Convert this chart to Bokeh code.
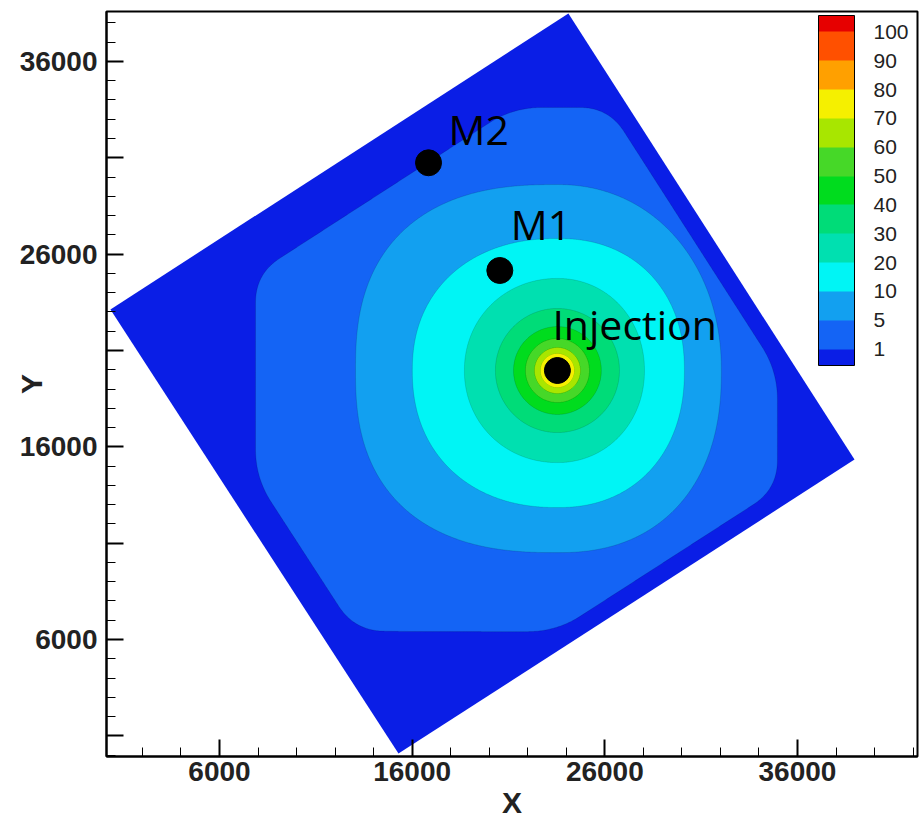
import numpy as np
from bokeh.plotting import figure
from bokeh.models import ColorBar, LinearColorMapper, FixedTicker, Range1d
from bokeh.embed import file_html
from bokeh.resources import INLINE
from bokeh.core.properties import value

# Model domain: a rotated square block, corner coordinates (m), order top, right, bottom, left
domain_x = [24110, 38960, 15290, 340]
domain_y = [38490, 15340, 80, 23130]

# Concentration levels shown on the colour bar
levels = [1, 5, 10, 20, 30, 40, 50, 60, 70, 80, 90, 100]
# Band colours: below 1, 1-5, 5-10, ..., 90-100, above 100
band_colors = ["#0a1ee6", "#1464f5", "#12a0f0", "#00f5f5", "#00e0b0",
               "#00dc78", "#00dc1e", "#46d828", "#a8e600", "#f5f000",
               "#ffa000", "#ff5000", "#e60000"]

# Wells
well_names = ["Injection", "M1", "M2"]
well_x = [23540, 20550, 16850]
well_y = [19960, 25150, 30740]

# Iso-concentration contours around the injection well:
# reach to the left, right, up and down from the well (m)
contour_levels = [1, 5, 10, 20, 30, 40, 50, 60, 70, 80]
reach_left = [15670, 10480, 7530, 4830, 3220, 2280, 1660, 1190, 880, 670]
reach_right = [11420, 8510, 6590, 4520, 3220, 2280, 1660, 1190, 880, 670]
reach_up = [13650, 9650, 6850, 4780, 3220, 2280, 1660, 1190, 880, 670]
reach_down = [13550, 9450, 7110, 4780, 3220, 2280, 1660, 1190, 880, 670]
# squareness per quadrant (upper-right, upper-left, lower-left, lower-right)
squareness = [(8, 8, 8, 8), (2.1, 2.5, 2.5, 2.3), (2.2, 2.2, 2.2, 2.2),
              (2.05, 2.05, 2.05, 2.05)] + [(2.0, 2.0, 2.0, 2.0)] * 6
# closest approach of the outermost contour to the block edges (m):
# top-right, bottom-right, bottom-left, top-left edge
edge_gap_1 = [880, 880, 1560, 2540]

x_major = [6000, 16000, 26000, 36000]
y_major = [1000, 6000, 11000, 16000, 21000, 26000, 31000, 36000]
y_labelled = [6000, 16000, 26000, 36000]


def contour_outline(cx, cy, left, right, up, down, quad_p, n=1440):
    t = np.linspace(0, 2 * np.pi, n, endpoint=False)
    c, s = np.cos(t), np.sin(t)
    quad = np.where(c >= 0, np.where(s >= 0, 0, 3), np.where(s >= 0, 1, 2))
    p = np.array(quad_p, dtype=float)[quad]
    a = np.where(c >= 0, right, left)
    b = np.where(s >= 0, up, down)
    x = cx + a * np.sign(c) * np.abs(c) ** (2.0 / p)
    y = cy + b * np.sign(s) * np.abs(s) ** (2.0 / p)
    return x, y


def inset_polygon(qx, qy, gaps):
    q = np.column_stack([qx, qy]).astype(float)
    n = len(q)
    area = 0.5 * np.sum(q[:, 0] * np.roll(q[:, 1], -1) - np.roll(q[:, 0], -1) * q[:, 1])
    normals, consts = [], []
    for i in range(n):
        a, b = q[i], q[(i + 1) % n]
        d = (b - a) / np.hypot(*(b - a))
        nin = np.array([-d[1], d[0]]) if area > 0 else np.array([d[1], -d[0]])
        normals.append(nin)
        consts.append(nin @ a + gaps[i])
    verts = [np.linalg.solve(np.array([normals[i - 1], normals[i]]),
                             np.array([consts[i - 1], consts[i]])) for i in range(n)]
    verts = np.array(verts)
    return list(verts[:, 0]), list(verts[:, 1])


def clip_to(px, py, qx, qy):
    """Sutherland-Hodgman clipping of polygon p against convex polygon q."""
    pts = list(zip(px, py))
    q = list(zip(qx, qy))
    area = sum(q[i][0] * q[(i + 1) % len(q)][1] - q[(i + 1) % len(q)][0] * q[i][1]
               for i in range(len(q)))
    orient = 1.0 if area > 0 else -1.0

    def inside(pt, a, b):
        return orient * ((b[0] - a[0]) * (pt[1] - a[1]) - (b[1] - a[1]) * (pt[0] - a[0])) >= 0

    def cross_pt(p1, p2, a, b):
        x1, y1 = p1
        x2, y2 = p2
        x3, y3 = a
        x4, y4 = b
        den = (x1 - x2) * (y3 - y4) - (y1 - y2) * (x3 - x4)
        tt = ((x1 - x3) * (y3 - y4) - (y1 - y3) * (x3 - x4)) / den
        return (x1 + tt * (x2 - x1), y1 + tt * (y2 - y1))

    for i in range(len(q)):
        a, b = q[i], q[(i + 1) % len(q)]
        out = []
        if not pts:
            break
        prev = pts[-1]
        for cur in pts:
            if inside(cur, a, b):
                if not inside(prev, a, b):
                    out.append(cross_pt(prev, cur, a, b))
                out.append(cur)
            elif inside(prev, a, b):
                out.append(cross_pt(prev, cur, a, b))
            prev = cur
        pts = out
    return np.array([v[0] for v in pts]), np.array([v[1] for v in pts])


def round_corners(x, y, window, m=1200):
    """Resample a closed outline evenly and apply a circular moving average."""
    xx = np.append(x, x[0])
    yy = np.append(y, y[0])
    s = np.concatenate([[0], np.cumsum(np.hypot(np.diff(xx), np.diff(yy)))])
    t = np.linspace(0, s[-1], m, endpoint=False)
    xc, yc = np.interp(t, s, xx), np.interp(t, s, yy)
    k = max(1, int(round(window / s[-1] * m)))
    if k < 2:
        return xc, yc
    ker = np.ones(k) / k
    xs_ = np.convolve(np.concatenate([xc[-k:], xc, xc[:k]]), ker, mode="same")[k:-k]
    ys_ = np.convolve(np.concatenate([yc[-k:], yc, yc[:k]]), ker, mode="same")[k:-k]
    return xs_, ys_


p = figure(width=920, height=821, output_backend="svg", toolbar_location=None,
           x_range=Range1d(135, 42230), y_range=Range1d(-70, 38590),
           min_border_left=106, min_border_right=3, min_border_top=11,
           min_border_bottom=65)
p.xgrid.visible = False
p.ygrid.visible = False
p.outline_line_color = "black"
p.outline_line_width = 2
p.background_fill_color = "white"

# block with the lowest band colour
p.patch(domain_x, domain_y, color=band_colors[0], line_color=None)

# nested filled contours, clipped to the block
cx, cy = well_x[0], well_y[0]
xs, ys, cols = [], [], []
for i, lev in enumerate(contour_levels):
    ox, oy = contour_outline(cx, cy, reach_left[i], reach_right[i], reach_up[i],
                             reach_down[i], squareness[i])
    if i == 0:
        gx, gy = inset_polygon(domain_x, domain_y, edge_gap_1)
        ox, oy = clip_to(ox, oy, gx, gy)
        ox, oy = round_corners(ox, oy, 3000)
    kx, ky = clip_to(ox, oy, domain_x, domain_y)
    xs.append(list(kx))
    ys.append(list(ky))
    cols.append(band_colors[levels.index(lev) + 1])
p.patches(xs, ys, fill_color=cols, line_color="#000000", line_alpha=0.12, line_width=1)

# wells
p.scatter(well_x, well_y, size=26, color="black")
p.text(x=well_x, y=well_y, text=well_names, x_offset=[-5, 11, 20], y_offset=[-47, -46, -34],
       text_font=value("Open Sans"), text_font_size="41px", text_color="black",
       text_baseline="alphabetic", text_align="left")

# axes
tick_font = "Liberation Sans"
for ax in (p.xaxis[0], p.yaxis[0]):
    ax.axis_line_width = 2
    ax.axis_line_color = "black"
    ax.major_tick_in = 17
    ax.major_tick_out = 0
    ax.major_tick_line_width = 2
    ax.minor_tick_in = 9
    ax.minor_tick_out = 0
    ax.minor_tick_line_width = 1
    ax.major_label_text_font = tick_font
    ax.major_label_text_font_style = "bold"
    ax.major_label_text_font_size = "28px"
    ax.major_label_text_color = "#222222"
    ax.axis_label_text_font = tick_font
    ax.axis_label_text_font_style = "bold"
    ax.axis_label_text_font_size = "30px"
    ax.axis_label_text_color = "#222222"

p.xaxis.ticker = FixedTicker(ticks=x_major, minor_ticks=list(range(0, 44000, 2000)))
p.yaxis.ticker = FixedTicker(ticks=y_major, minor_ticks=list(range(0, 39000, 1000)))
p.yaxis.major_label_overrides = {v: ("" if v not in y_labelled else str(v)) for v in y_major}
p.xaxis.major_label_standoff = 5
p.yaxis.major_label_standoff = 9
p.xaxis.axis_label = "X"
p.xaxis.axis_label_standoff = 2
p.yaxis.axis_label = "Y"
p.yaxis.axis_label_standoff = -31

# colour bar: level k sits at position k, end cells a little over half height
bar_low, bar_high, step = -0.57, len(levels) - 1 + 0.57, 0.01
bar_palette = []
for j in range(int(round((bar_high - bar_low) / step))):
    u = bar_low + (j + 0.5) * step
    k = 0 if u < 0 else (len(band_colors) - 1 if u >= len(levels) - 1 else int(np.floor(u)) + 1)
    bar_palette.append(band_colors[k])
mapper = LinearColorMapper(palette=bar_palette, low=bar_low, high=bar_high)
cbar = ColorBar(color_mapper=mapper, ticker=FixedTicker(ticks=list(range(len(levels)))),
                major_label_overrides={i: str(v) for i, v in enumerate(levels)},
                width=36, height=350, location=(712, 391), padding=0,
                label_standoff=19, major_tick_line_color=None,
                bar_line_color="black", bar_line_width=1,
                background_fill_color="white", background_fill_alpha=1.0,
                border_line_color=None,
                major_label_text_font=tick_font, major_label_text_font_size="21px",
                major_label_text_color="#222222")
p.add_layout(cbar, "center")

open("out.html", "w").write(file_html(p, INLINE))
